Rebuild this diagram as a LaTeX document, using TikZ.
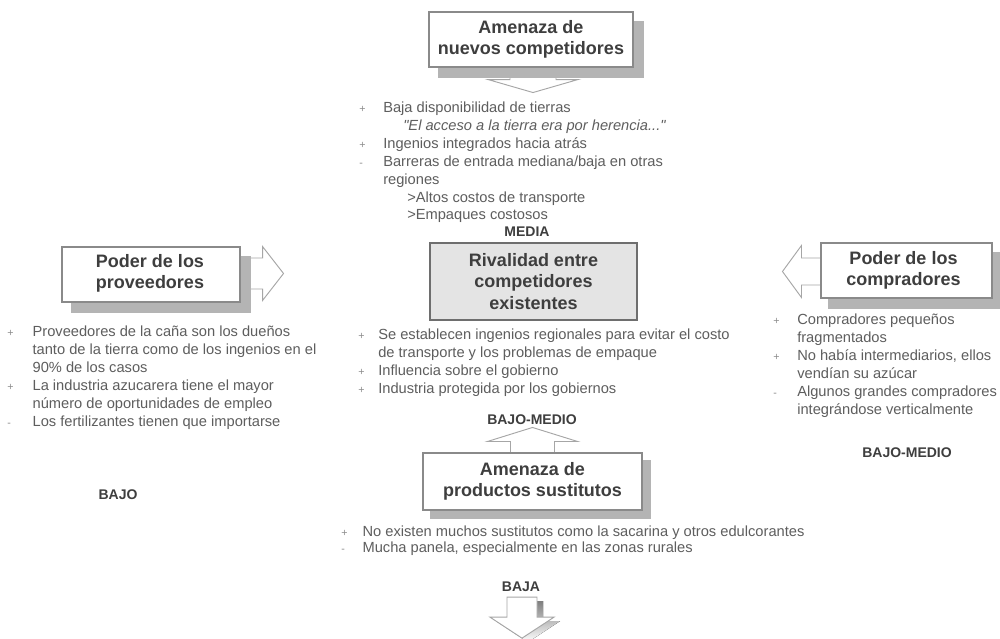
\documentclass[tikz,border=0pt]{standalone}
\usepackage{fontspec}
\setmainfont{Liberation Sans}
\usetikzlibrary{fit,calc}
\definecolor{txt}{HTML}{5E5E5E}
\definecolor{head}{HTML}{3E3E3E}
\definecolor{frame}{HTML}{8A8A8A}
\definecolor{shade}{HTML}{B4B4B4}
\definecolor{arrowline}{HTML}{A6A6A6}
\definecolor{rivalfill}{HTML}{E4E4E4}
\definecolor{rivalframe}{HTML}{6E6E6E}
\definecolor{bulletgray}{HTML}{8C8C8C}
\pgfdeclarelayer{bg}
\pgfsetlayers{bg,main}
% small grey bullet sign used in the lists, in a column of the given width
\newcommand{\fbul}[2]{\makebox[#1][l]{\fontsize{8}{8}\selectfont\color{bulletgray}#2}}
\begin{document}
\begin{tikzpicture}[x=0.75pt,y=-0.75pt,
  forcebox/.style={draw=frame, line width=0.8pt, fill=white, inner sep=0pt},
  rivalbox/.style={draw=rivalframe, line width=1.1pt, fill=rivalfill, inner sep=0pt},
  boxtext/.style={inner sep=0pt, font=\fontsize{13.5}{16}\selectfont\bfseries,
    text=head, align=center},
  shadowfill/.style={fill=shade},
  blockarrow/.style={draw=arrowline, line width=0.7pt, fill=white, line join=miter},
  listtext/.style={anchor=north west, inner sep=0pt, font=\fontsize{11}{13.4}\selectfont,
    text=txt, align=left},
  level/.style={inner sep=0pt, font=\fontsize{10.5}{12}\selectfont\bfseries, text=head}
]
\begin{pgfonlayer}{bg}
  \fill[white] (0,0) rectangle (1000,639);
\end{pgfonlayer}
\useasboundingbox (0,0) rectangle (1000,639);

% ---------- the five boxes ----------
\node[forcebox, fit={(429,12) (633,67)}] (nuevos) {};
\node[forcebox, fit={(62,247) (240,302)}] (proveedores) {};
\node[forcebox, fit={(821,243) (992,298)}] (compradores) {};
\node[rivalbox, fit={(430,243) (637,320)}] (rivalidad) {};
\node[forcebox, fit={(423,453) (642,510)}] (sustitutos) {};

\node[boxtext] (nuevostext) at ($(nuevos.center)+(0,0)$) {Amenaza de\\nuevos competidores};
\node[boxtext] (proveedorestext) at ($(proveedores.center)+(-1,-1)$) {Poder de los\\proveedores};
\node[boxtext] (compradorestext) at ($(compradores.center)+(-3,0)$) {Poder de los\\compradores};
\node[boxtext] (rivalidadtext) at (rivalidad.center) {Rivalidad entre\\competidores\\existentes};
\node[boxtext] (sustitutostext) at (sustitutos.center) {Amenaza de\\productos sustitutos};

% ---------- level labels ----------
\node[level] (media) at (527,232) {MEDIA};
\node[level] (bajomedioc) at (532,420) {BAJO-MEDIO};
\node[level] (bajomedior) at (907,453) {BAJO-MEDIO};
\node[level] (bajo) at (118,495) {BAJO};
\node[level] (baja) at (521,587) {BAJA};

% ---------- lists of factors ----------
\node[listtext] (nuevoslist) at (359,100) {\begin{tabular}{@{}l@{}l@{}}
\fbul{18pt}{+} & Baja disponibilidad de tierras\\
 & \hspace{15pt}\textit{\textquotedbl El acceso a la tierra era por herencia...\textquotedbl}\\
\fbul{18pt}{+} & Ingenios integrados hacia atrás\\
\fbul{18pt}{-} & Barreras de entrada mediana/baja en otras\\
 & regiones\\
 & \hspace{18pt}>Altos costos de transporte\\
 & \hspace{18pt}>Empaques costosos
\end{tabular}};

\node[listtext] (proveedoreslist) at (7,324) {\begin{tabular}{@{}l@{}l@{}}
\fbul{19pt}{+} & Proveedores de la caña son los dueños\\
 & tanto de la tierra como de los ingenios en el\\
 & 90\% de los casos\\
\fbul{19pt}{+} & La industria azucarera tiene el mayor\\
 & número de oportunidades de empleo\\
\fbul{19pt}{-} & Los fertilizantes tienen que importarse
\end{tabular}};

\node[listtext] (rivalidadlist) at (358,327) {\begin{tabular}{@{}l@{}l@{}}
\fbul{15pt}{+} & Se establecen ingenios regionales para evitar el costo\\
 & de transporte y los problemas de empaque\\
\fbul{15pt}{+} & Influencia sobre el gobierno\\
\fbul{15pt}{+} & Industria protegida por los gobiernos
\end{tabular}};

\node[listtext] (compradoreslist) at (773,312) {\begin{tabular}{@{}l@{}l@{}}
\fbul{18pt}{+} & Compradores pequeños\\
 & fragmentados\\
\fbul{18pt}{+} & No había intermediarios, ellos\\
 & vendían su azúcar\\
\fbul{18pt}{-} & Algunos grandes compradores\\
 & integrándose verticalmente
\end{tabular}};

\node[listtext, font=\fontsize{11}{11.3}\selectfont] (sustitutoslist) at (341,526) {\begin{tabular}{@{}l@{}l@{}}
\fbul{16pt}{+} & No existen muchos sustitutos como la sacarina y otros edulcorantes\\
\fbul{16pt}{-} & Mucha panela, especialmente en las zonas rurales
\end{tabular}};

% ---------- shadows and block arrows behind the boxes ----------
\begin{pgfonlayer}{bg}
  % arrow from the entrants box down to the rivalry
  \coordinate (ta) at ($(nuevos.south)+(2,0)$);
  \draw[blockarrow] ($(ta)+(-23,-8)$) -- ($(ta)+(-23,12)$) -- ($(ta)+(-45,12)$)
    -- ($(ta)+(0,25)$) -- ($(ta)+(45,12)$) -- ($(ta)+(23,12)$) -- ($(ta)+(23,-8)$) -- cycle;
  % arrow from the suppliers box to the right
  \coordinate (la) at ($(proveedores.east)+(0,-1)$);
  \draw[blockarrow] ($(la)+(-6,-15.5)$) -- ($(la)+(22,-15.5)$) -- ($(la)+(22,-27)$)
    -- ($(la)+(43,0)$) -- ($(la)+(22,27)$) -- ($(la)+(22,15.5)$) -- ($(la)+(-6,15.5)$) -- cycle;
  % arrow from the buyers box to the left
  \coordinate (ra) at ($(compradores.west)+(0,1)$);
  \draw[blockarrow] ($(ra)+(4,-13.5)$) -- ($(ra)+(-19,-13.5)$) -- ($(ra)+(-19,-26)$)
    -- ($(ra)+(-38,0)$) -- ($(ra)+(-19,26)$) -- ($(ra)+(-19,13.5)$) -- ($(ra)+(4,13.5)$) -- cycle;
  % arrow from the substitutes box up to the rivalry
  \coordinate (ua) at (sustitutos.north);
  \draw[blockarrow] ($(ua)+(-22,4)$) -- ($(ua)+(-22,-11)$) -- ($(ua)+(-45,-11)$)
    -- ($(ua)+(0,-25)$) -- ($(ua)+(45,-11)$) -- ($(ua)+(22,-11)$) -- ($(ua)+(22,4)$) -- cycle;

  % drop shadows
  \fill[shadowfill] ([shift={(10,10)}]nuevos.north west) rectangle ([shift={(10,10)}]nuevos.south east);
  \fill[shadowfill] ([shift={(10,10)}]proveedores.north west) rectangle ([shift={(10,10)}]proveedores.south east);
  \fill[shadowfill] ([shift={(8,10)}]compradores.north west) rectangle ([shift={(8,10)}]compradores.south east);
  \fill[shadowfill] ([shift={(8,8)}]sustitutos.north west) rectangle ([shift={(8,8)}]sustitutos.south east);
\end{pgfonlayer}

% ---------- arrow under the lowest label, with its shadow ----------
\coordinate (da) at ($(baja.south)+(1,5)$);
\fill[shade] ($(da)+(-15+6,4)$) -- ($(da)+(-15+6,24)$) -- ($(da)+(-32+6,24)$)
  -- ($(da)+(6,45)$) -- ($(da)+(32+6,24)$) -- ($(da)+(15+6,24)$) -- ($(da)+(15+6,4)$) -- cycle;
\draw[blockarrow] ($(da)+(-15,0)$) -- ($(da)+(-15,20)$) -- ($(da)+(-32,20)$)
  -- ($(da)+(0,41)$) -- ($(da)+(32,20)$) -- ($(da)+(15,20)$) -- ($(da)+(15,0)$) -- cycle;
\end{tikzpicture}
\end{document}
